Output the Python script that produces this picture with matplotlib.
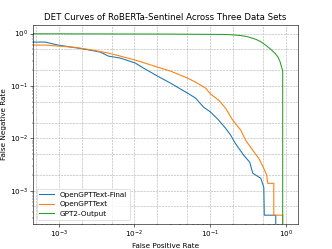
import matplotlib
matplotlib.use("Agg")
import matplotlib.pyplot as plt

# DET curve points (fpr, fnr); 0 marks the clipped ends
final_fpr = [0.0, 6.6e-4, 9.8e-4, 2.05e-3, 3.55e-3, 4.53e-3, 6.53e-3, 0.0103, 0.0132,
             0.0202, 0.030, 0.0504, 0.0643, 0.082, 0.1016, 0.130, 0.160, 0.187, 0.211,
             0.238, 0.278, 0.334, 0.366, 0.467, 0.512, 0.52, 0.737, 0.737, 1.0]
final_fnr = [0.688, 0.688, 0.603, 0.512, 0.443, 0.371, 0.340, 0.273, 0.219,
             0.154, 0.113, 0.0728, 0.0585, 0.0393, 0.0316, 0.0222, 0.0156, 0.01146, 0.0084,
             0.0065, 0.00475, 0.00349, 0.00215, 0.00173, 0.00116, 3.4e-4, 3.4e-4, 0.0, 0.0]

ogt_fpr = [0.0, 6.6e-4, 1.66e-3, 2.78e-3, 4.53e-3, 6.53e-3, 0.0103, 0.0202, 0.030,
           0.0504, 0.0643, 0.0872, 0.1016, 0.130, 0.160, 0.199, 0.254, 0.295, 0.366,
           0.439, 0.511, 0.560, 0.577, 0.694, 0.694, 0.91, 0.91, 1.0]
ogt_fnr = [0.603, 0.603, 0.545, 0.484, 0.424, 0.371, 0.311, 0.229, 0.192,
           0.141, 0.118, 0.0908, 0.0697, 0.0535, 0.0376, 0.0222, 0.0143, 0.0092, 0.0059,
           0.00417, 0.00268, 0.00197, 0.00138, 0.00138, 3.4e-4, 3.4e-4, 0.0, 0.0]

gpt2_fpr = [0.0, 6.6e-4, 0.0274, 0.171, 0.25, 0.314, 0.40, 0.467, 0.543, 0.633,
            0.72, 0.784, 0.84, 0.885, 0.91, 0.91, 1.0]
gpt2_fnr = [0.99, 0.99, 0.978, 0.96, 0.92, 0.87, 0.78, 0.70, 0.60, 0.50,
            0.42, 0.36, 0.29, 0.22, 0.20, 0.0, 0.0]

series = [
    ("OpenGPTText-Final", final_fpr, final_fnr),
    ("OpenGPTText", ogt_fpr, ogt_fnr),
    ("GPT2-Output", gpt2_fpr, gpt2_fnr),
]

fig, ax = plt.subplots(figsize=(6.4, 4.8), dpi=51.875)
fig.subplots_adjust(left=0.0994, right=0.8976, bottom=0.1024, top=0.9016)

ax.set_xscale("log")
ax.set_yscale("log")

grid_style = dict(linestyle="--", color="#b0b0b0", linewidth=0.8)
ax.grid(True, which="major", **grid_style)
for exp in range(-4, 1):
    for m in (2, 5):
        ax.axvline(m * 10.0**exp, zorder=1.5, **grid_style)
        ax.axhline(m * 10.0**exp, zorder=1.5, **grid_style)

for label, fpr, fnr in series:
    ax.plot(fpr, fnr, label=label)

ax.set_xlim(4.57e-4, 1.45)
ax.set_ylim(2.36e-4, 1.49)
ax.set_xlabel("False Positive Rate")
ax.set_ylabel("False Negative Rate")
ax.set_title("DET Curves of RoBERTa-Sentinel Across Three Data Sets")
ax.legend(loc="lower left")

fig.savefig("out.png", dpi=51.875)
